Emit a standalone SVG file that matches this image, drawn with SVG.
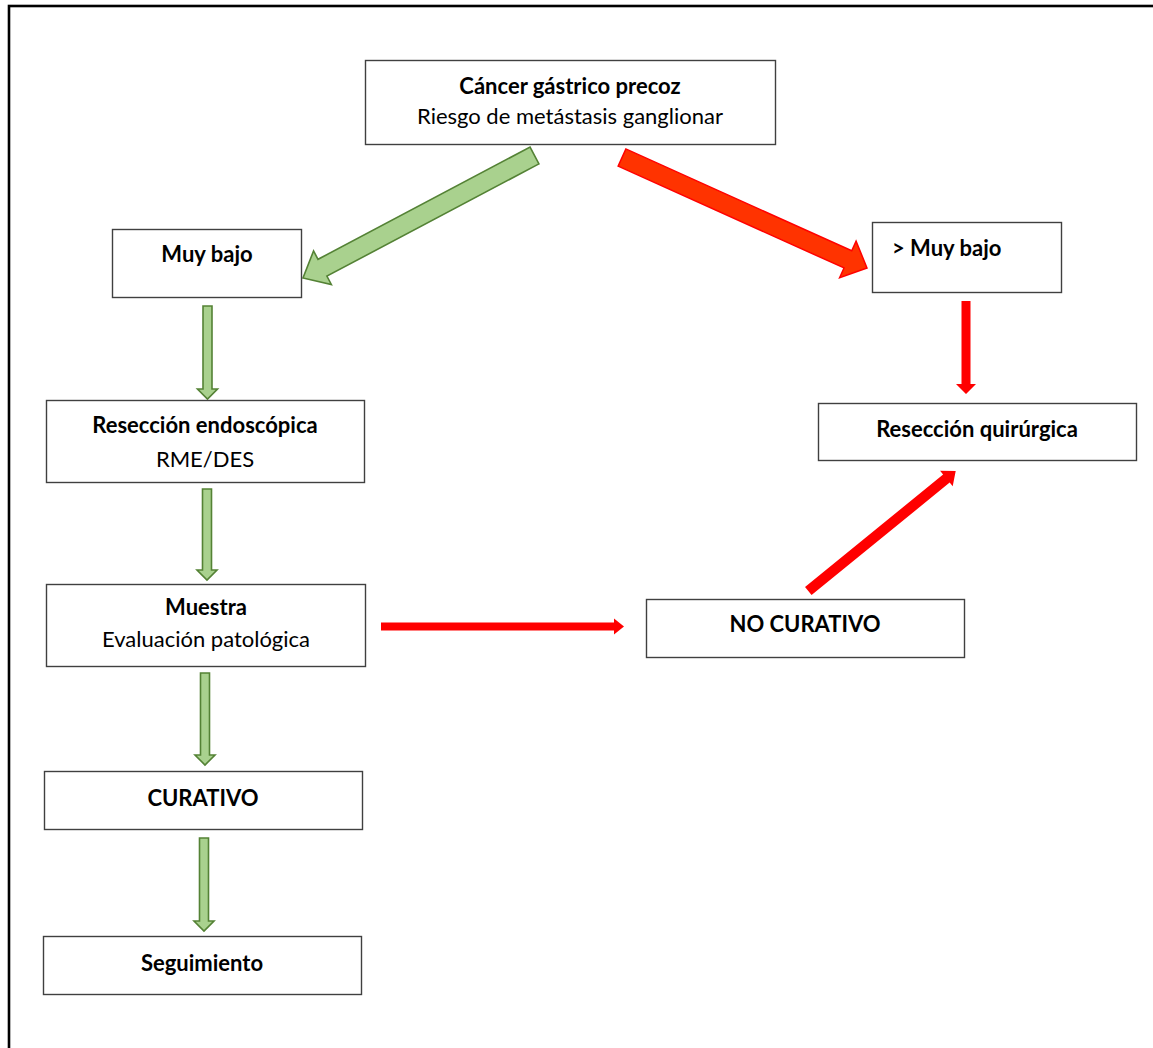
<svg xmlns="http://www.w3.org/2000/svg" width="1153" height="1048" viewBox="0 0 1153 1048">
<style>
.box{fill:#fff;stroke:#404040;stroke-width:1.4}
.t{font-family:Lato,"Liberation Sans",sans-serif;font-size:22px;fill:#000;text-anchor:middle}
.b{font-weight:bold}
.g{fill:#a9d18e;stroke:#548235;stroke-width:1.6;stroke-linejoin:miter}
.r{fill:#ff0000;stroke:none}
.ro{fill:#ff3300;stroke:#ff0000;stroke-width:1.5}
</style>
<rect width="1153" height="1048" fill="#fff"/>
<rect x="9" y="6" width="1200" height="1100" fill="none" stroke="#000" stroke-width="2.6"/>
<g id="connectors">
<polygon class="g" points="538.94,163.90 326.89,276.11 331.34,284.50 303,278 313.56,250.92 318.01,259.31 530.06,147.10"/>
<polygon class="ro" points="618.14,166.07 844.0,267.94 839.64,277.60 867,268 856.08,241.14 851.72,250.80 625.86,148.93"/>
<polygon class="g" points="203,306 212,306 212,389 217.5,389 207.5,399 197.5,389 203,389"/>
<polygon class="g" points="202.5,489 211.5,489 211.5,570 217,570 207,580 197,570 202.5,570"/>
<polygon class="g" points="200.5,673 209.5,673 209.5,755 215,755 205,765 195,755 200.5,755"/>
<polygon class="g" points="199.5,838 208.5,838 208.5,921 214,921 204,931 194,921 199.5,921"/>
<polygon class="r" points="961.5,301 970.5,301 970.5,384 976,384 966,394 956,384 961.5,384"/>
<polygon class="r" points="381,622.5 614,622.5 614,618.5 624,626.5 614,634.5 614,630.5 381,630.5"/>
<polygon class="r" points="811.58,595.03 949.67,482.61 952.70,486.34 955.7,471 940.08,470.82 943.11,474.55 805.02,586.97"/>
</g>
<g id="n-cancer">
<rect class="box" x="365.5" y="60.5" width="410" height="84"/>
<text class="t b" x="570" y="94">Cáncer gástrico precoz</text>
<text class="t" x="570" y="124">Riesgo de metástasis ganglionar</text>
</g>
<g id="n-muybajo">
<rect class="box" x="112.5" y="229.5" width="189" height="68"/>
<text class="t b" x="207" y="262">Muy bajo</text>
</g>
<g id="n-mayor">
<rect class="box" x="872.5" y="222.5" width="189" height="70"/>
<text class="t b" x="892" y="256" style="text-anchor:start">&gt; Muy bajo</text>
</g>
<g id="n-reseccion-endo">
<rect class="box" x="46.5" y="400.5" width="318" height="82"/>
<text class="t b" x="205" y="433">Resección endoscópica</text>
<text class="t" x="205" y="467">RME/DES</text>
</g>
<g id="n-reseccion-quir">
<rect class="box" x="818.5" y="403.5" width="318" height="57"/>
<text class="t b" x="977" y="437">Resección quirúrgica</text>
</g>
<g id="n-muestra">
<rect class="box" x="46.5" y="584.5" width="319" height="82"/>
<text class="t b" x="206" y="615">Muestra</text>
<text class="t" x="206" y="647">Evaluación patológica</text>
</g>
<g id="n-nocurativo">
<rect class="box" x="646.5" y="599.5" width="318" height="58"/>
<text class="t b" x="805" y="632">NO CURATIVO</text>
</g>
<g id="n-curativo">
<rect class="box" x="44.5" y="771.5" width="318" height="58"/>
<text class="t b" x="203" y="806">CURATIVO</text>
</g>
<g id="n-seguimiento">
<rect class="box" x="43.5" y="936.5" width="318" height="58"/>
<text class="t b" x="202" y="971">Seguimiento</text>
</g>
</svg>
